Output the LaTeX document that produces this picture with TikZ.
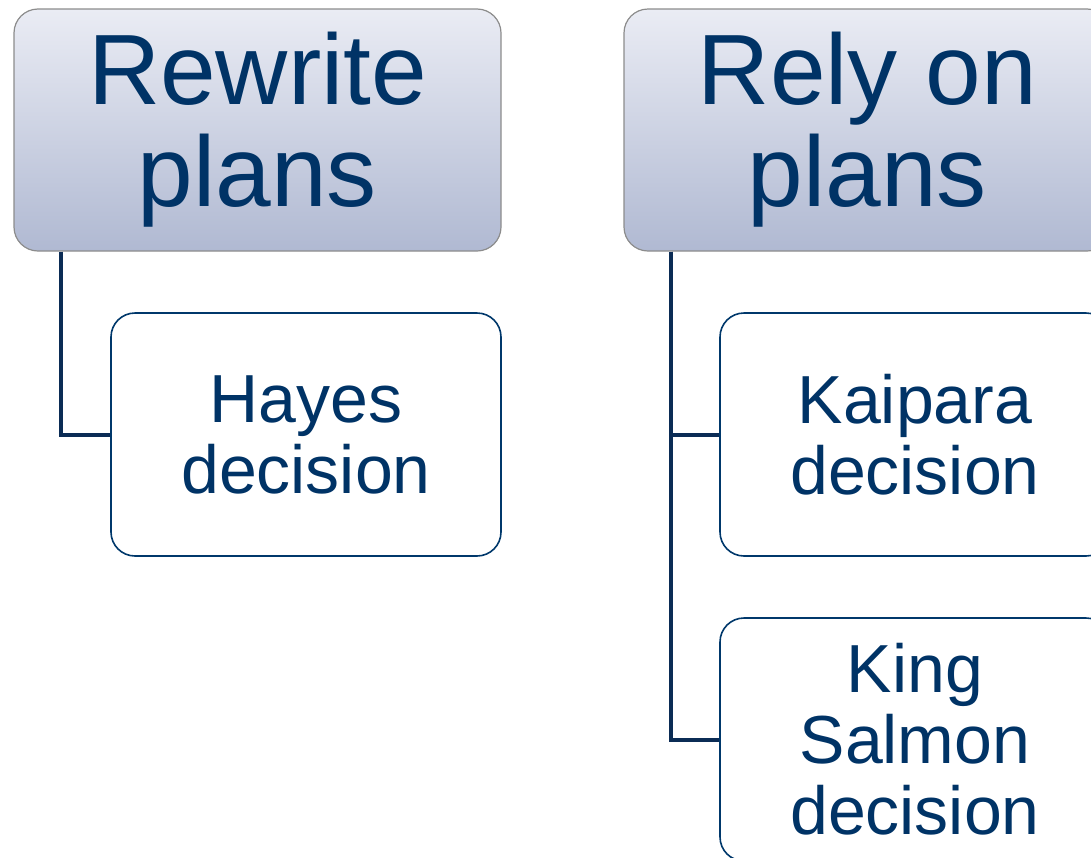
\documentclass[tikz,border=0pt]{standalone}
\usepackage{fontspec}
\setmainfont{Liberation Sans}
\usepackage{xcolor}
\usetikzlibrary{positioning}

\definecolor{navytext}{RGB}{0,51,102}
\definecolor{topshade}{RGB}{234,236,244}
\definecolor{botshade}{RGB}{176,185,210}
\definecolor{leafline}{RGB}{0,56,107}
\definecolor{linkcol}{RGB}{11,44,85}

\begin{document}
\begin{tikzpicture}[x=0.5pt,y=-0.5pt]
  \tikzstyle{topbox}=[draw=gray!90,line width=0.6pt,rounded corners=12pt,top color=topshade,bottom color=botshade,minimum width=243.5pt,minimum height=121pt,inner sep=0pt,text=navytext,align=center,font=\fontsize{50}{51}\selectfont]
  \tikzstyle{leafbox}=[draw=leafline,line width=0.8pt,rounded corners=12pt,fill=white,minimum width=195pt,minimum height=121.5pt,inner sep=0pt,text=navytext,align=center,font=\fontsize{34}{35.5}\selectfont]
  \tikzstyle{link}=[draw=linkcol,line width=2pt]

  \useasboundingbox (0,0) rectangle (1091,857);
  \clip (0,0) rectangle (1091,857);

  \node [topbox] (rewrite) at (257.5,130) {Rewrite\\plans};
  \node [topbox] (rely) at (867.5,130) {Rely on\\plans};

  \node [leafbox] (hayes) at (306,434.5) {Hayes\\decision};
  \node [leafbox] (kaipara) at (915,434.5) {Kaipara\\decision};
  \node [leafbox] (salmon) at (915,739.5) {King\\Salmon\\decision};

  \draw [link] ([xshift=24pt]rewrite.south west) |- (hayes.west);
  \draw [link] ([xshift=24pt]rely.south west) |- (kaipara.west);
  \draw [link] ([xshift=24pt]rely.south west) |- (salmon.west);
\end{tikzpicture}
\end{document}
